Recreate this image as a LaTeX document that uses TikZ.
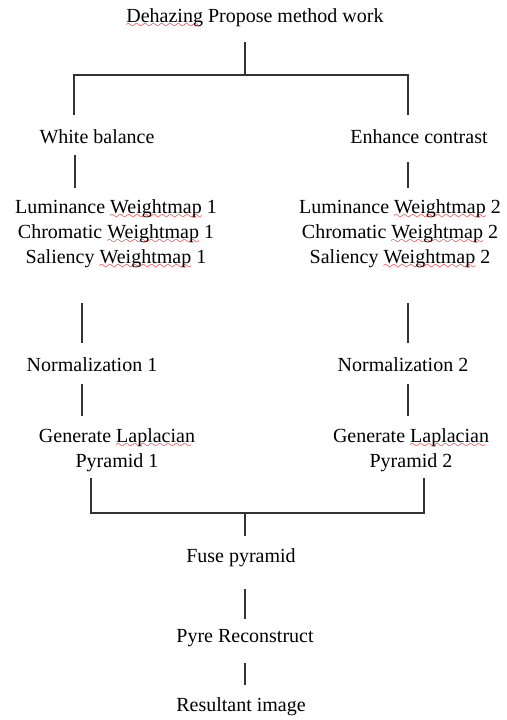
\documentclass[tikz,border=0pt]{standalone}
\usepackage{fontspec}
\setmainfont{Liberation Serif}
\font\wavyfont=lasy6
\newcommand{\spellerr}[1]{\setbox0\hbox{#1}\rlap{\textcolor{red}{\lower3pt\hbox to \wd0{\leaders\hbox{\wavyfont\char58}\hfill}}}\box0\relax}

\begin{document}
\begin{tikzpicture}[x=0.6pt, y=-0.6pt, line width=0.8pt,
		lbl/.style={inner sep=0pt, align=center, font=\fontsize{12}{15}\selectfont},
		link/.style={draw=black!80}]
		\useasboundingbox (0,0) rectangle (506,720);
		% labels
		\node[lbl] (title) at (255,18) {\spellerr{Dehazing} Propose method work};
		\node[lbl] (wb) at (97,137) {White balance};
		\node[lbl] (ec) at (419,137) {Enhance contrast};
		\node[lbl] (wm1) at (116,234) {Luminance \spellerr{Weightmap} 1\\Chromatic \spellerr{Weightmap} 1\\Saliency \spellerr{Weightmap} 1};
		\node[lbl] (wm2) at (400,234) {Luminance \spellerr{Weightmap} 2\\Chromatic \spellerr{Weightmap} 2\\Saliency \spellerr{Weightmap} 2};
		\node[lbl] (norm1) at (92,365) {Normalization 1};
		\node[lbl] (norm2) at (403,365) {Normalization 2};
		\node[lbl] (lap1) at (117,450) {Generate \spellerr{Laplacian}\\Pyramid 1};
		\node[lbl] (lap2) at (411,450) {Generate \spellerr{Laplacian}\\Pyramid 2};
		\node[lbl] (fuse) at (241,558) {Fuse pyramid};
		\node[lbl] (pyre) at (245,638) {Pyre Reconstruct};
		\node[lbl] (res) at (241,707) {Resultant image};
		% line ends
		\coordinate (t0) at (245,42);   \coordinate (t1) at (245,75);
		\coordinate (tl) at (74,75);    \coordinate (tr) at (408,75);
		\coordinate (tl2) at (74,115);  \coordinate (tr2) at (408,115);
		\coordinate (a1) at (75,155);   \coordinate (a2) at (75,188);
		\coordinate (b1) at (408,162);  \coordinate (b2) at (408,188);
		\coordinate (c1) at (82,303);   \coordinate (c2) at (82,343);
		\coordinate (d1) at (408,303);  \coordinate (d2) at (408,343);
		\coordinate (e1) at (82,384);   \coordinate (e2) at (82,416);
		\coordinate (f1) at (408,384);  \coordinate (f2) at (408,416);
		\coordinate (gl) at (91,478);   \coordinate (gl2) at (91,513);
		\coordinate (gr) at (424,478);  \coordinate (gr2) at (424,513);
		\coordinate (g0) at (245,513);  \coordinate (g1) at (245,536);
		\coordinate (h1) at (245,589);  \coordinate (h2) at (245,619);
		\coordinate (k1) at (245,663);  \coordinate (k2) at (245,685);
		% connectors
		\draw[link] (t0) -- (t1);
		\draw[link] (tl2) -- (tl) -- (tr) -- (tr2);
		\draw[link] (a1) -- (a2);
		\draw[link] (b1) -- (b2);
		\draw[link] (c1) -- (c2);
		\draw[link] (d1) -- (d2);
		\draw[link] (e1) -- (e2);
		\draw[link] (f1) -- (f2);
		\draw[link] (gl) -- (gl2) -- (gr2) -- (gr);
		\draw[link] (g0) -- (g1);
		\draw[link] (h1) -- (h2);
		\draw[link] (k1) -- (k2);
\end{tikzpicture}
\end{document}
